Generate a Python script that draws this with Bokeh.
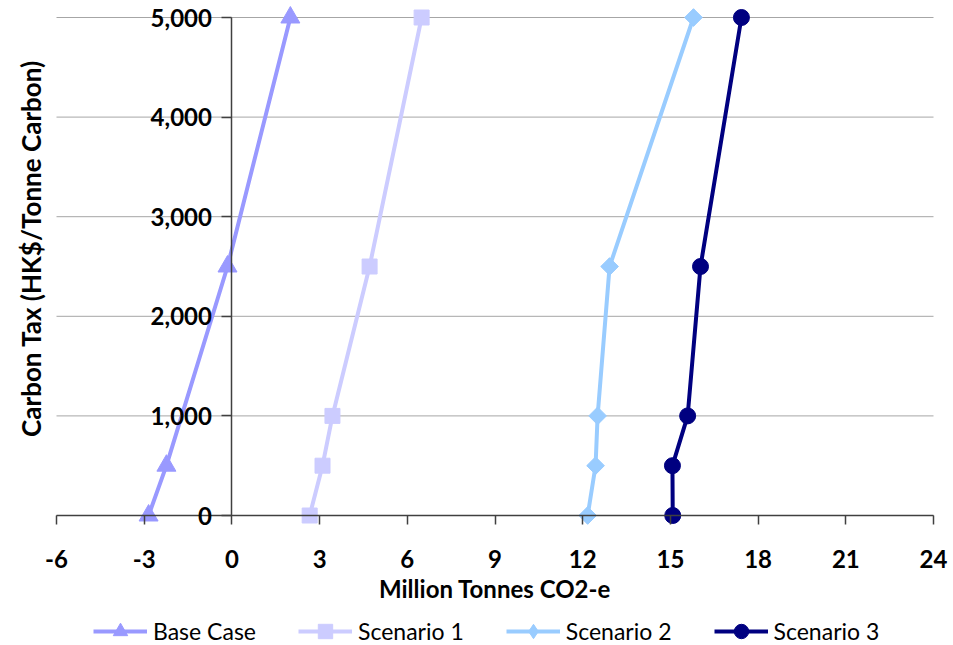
import math
from bokeh.plotting import figure
from bokeh.models import (FixedTicker, Legend, LegendItem, Label,
                          NumeralTickFormatter, Range1d)
from bokeh.embed import file_html
from bokeh.resources import INLINE

# ---- data ----
tax_base = [0, 500, 2500, 5000]
base_case = [-2.85, -2.24, -0.15, 2.0]

tax = [0, 500, 1000, 2500, 5000]
scenario1 = [2.66, 3.10, 3.44, 4.71, 6.49]
scenario2 = [12.17, 12.44, 12.51, 12.92, 15.79]
scenario3 = [15.08, 15.07, 15.59, 16.03, 17.43]

x_ticks = [-6, -3, 0, 3, 6, 9, 12, 15, 18, 21, 24]
y_ticks = [0, 1000, 2000, 3000, 4000, 5000]

FONT = "Lato"
AXIS_COL = "#404040"

W, H = 953, 645
PLOT_L, PLOT_R, PLOT_T, PLOT_B = 56, 933, 17, 515   # plot area in pixels
kx = (PLOT_R - PLOT_L) / (x_ticks[-1] - x_ticks[0])
ky = (PLOT_B - PLOT_T) / (y_ticks[-1] - y_ticks[0])
x_range = Range1d(x_ticks[0] - PLOT_L / kx, x_ticks[-1] + (W - PLOT_R) / kx)
y_range = Range1d(y_ticks[0] - (H - PLOT_B) / ky, y_ticks[-1] + PLOT_T / ky)

# frame spans the whole canvas; axes are pinned at x=0 / y=0 inside it
p = figure(width=W, height=H, x_range=x_range, y_range=y_range,
           output_backend="svg", toolbar_location=None,
           min_border_left=0, min_border_right=0, min_border_top=0,
           min_border_bottom=0)
p.outline_line_color = None
p.background_fill_color = "white"
p.xgrid.visible = False
p.ygrid.visible = False

# horizontal gridlines across the plot area only
p.segment(x0=[x_ticks[0]] * len(y_ticks), x1=[x_ticks[-1]] * len(y_ticks),
          y0=y_ticks, y1=y_ticks, line_color="#a6a6a6", line_width=1, level="underlay")

# x axis (pinned at y = 0)
xa = p.xaxis[0]
xa.fixed_location = 0
xa.bounds = (x_ticks[0], x_ticks[-1])
xa.ticker = FixedTicker(ticks=x_ticks)
xa.major_label_overrides = {t: str(t) for t in x_ticks}
xa.axis_line_color = AXIS_COL
xa.axis_line_width = 1.5
xa.major_tick_line_color = AXIS_COL
xa.major_tick_line_width = 1.5
xa.major_tick_in = 0
xa.major_tick_out = 9
xa.minor_tick_out = 0
xa.minor_tick_in = 0
xa.major_label_text_font = FONT
xa.major_label_text_font_style = "bold"
xa.major_label_text_font_size = "24px"
xa.major_label_text_color = "black"
xa.major_label_standoff = 25
xa.axis_label = "Million Tonnes CO2-e"
xa.axis_label_text_font = FONT
xa.axis_label_text_font_style = "bold"
xa.axis_label_text_font_size = "24px"
xa.axis_label_text_color = "black"
xa.axis_label_standoff = 3

# y axis (pinned at x = 0)
ya = p.yaxis[0]
ya.fixed_location = 0
ya.bounds = (y_ticks[0], y_ticks[-1])
ya.ticker = FixedTicker(ticks=y_ticks)
ya.formatter = NumeralTickFormatter(format="0,0")
ya.axis_line_color = AXIS_COL
ya.axis_line_width = 1.5
ya.major_tick_line_color = AXIS_COL
ya.major_tick_line_width = 1.5
ya.major_tick_in = 0
ya.major_tick_out = 10
ya.minor_tick_out = 0
ya.minor_tick_in = 0
ya.major_label_text_font = FONT
ya.major_label_text_font_style = "bold"
ya.major_label_text_font_size = "24px"
ya.major_label_text_color = "black"
ya.major_label_standoff = 10

# y axis title on the far left
p.add_layout(Label(x=30, y=H - 248, x_units="screen", y_units="screen",
                   text="Carbon Tax (HK$/Tonne Carbon)", angle=math.pi / 2,
                   text_align="center", text_baseline="middle",
                   text_font=FONT, text_font_style="bold", text_font_size="26px",
                   text_color="black"))

# series
c_base, c_s1, c_s2, c_s3 = "#9999FF", "#CCCCFF", "#99CCFF", "#000080"

l0 = p.line(base_case, tax_base, line_color=c_base, line_width=4)
m0 = p.scatter(base_case, tax_base, marker="triangle", size=19, fill_color=c_base, line_color=c_base)
l1 = p.line(scenario1, tax, line_color=c_s1, line_width=4)
m1 = p.scatter(scenario1, tax, marker="square", size=15, fill_color=c_s1, line_color=c_s1)
l2 = p.line(scenario2, tax, line_color=c_s2, line_width=4)
m2_leg = p.scatter(scenario2, tax, marker="diamond", size=17, fill_color=c_s2, line_color=c_s2)
m2 = p.scatter(scenario2, tax, marker="square", angle=math.pi / 4, size=12.5,
               fill_color=c_s2, line_color=c_s2)
l3 = p.line(scenario3, tax, line_color=c_s3, line_width=4)
m3 = p.scatter(scenario3, tax, marker="circle", size=16, fill_color=c_s3, line_color=c_s3)

legend = Legend(items=[LegendItem(label="Base Case", renderers=[l0, m0]),
                       LegendItem(label="Scenario 1", renderers=[l1, m1]),
                       LegendItem(label="Scenario 2", renderers=[l2, m2_leg]),
                       LegendItem(label="Scenario 3", renderers=[l3, m3])],
                orientation="horizontal", location=(93, -4),
                border_line_color=None, background_fill_alpha=0,
                glyph_width=54, glyph_height=36, label_standoff=6, spacing=42,
                label_text_font=FONT, label_text_font_size="23px",
                label_text_color="black", padding=0, margin=0)
p.add_layout(legend, "center")

open("out.html", "w").write(file_html(p, INLINE))
